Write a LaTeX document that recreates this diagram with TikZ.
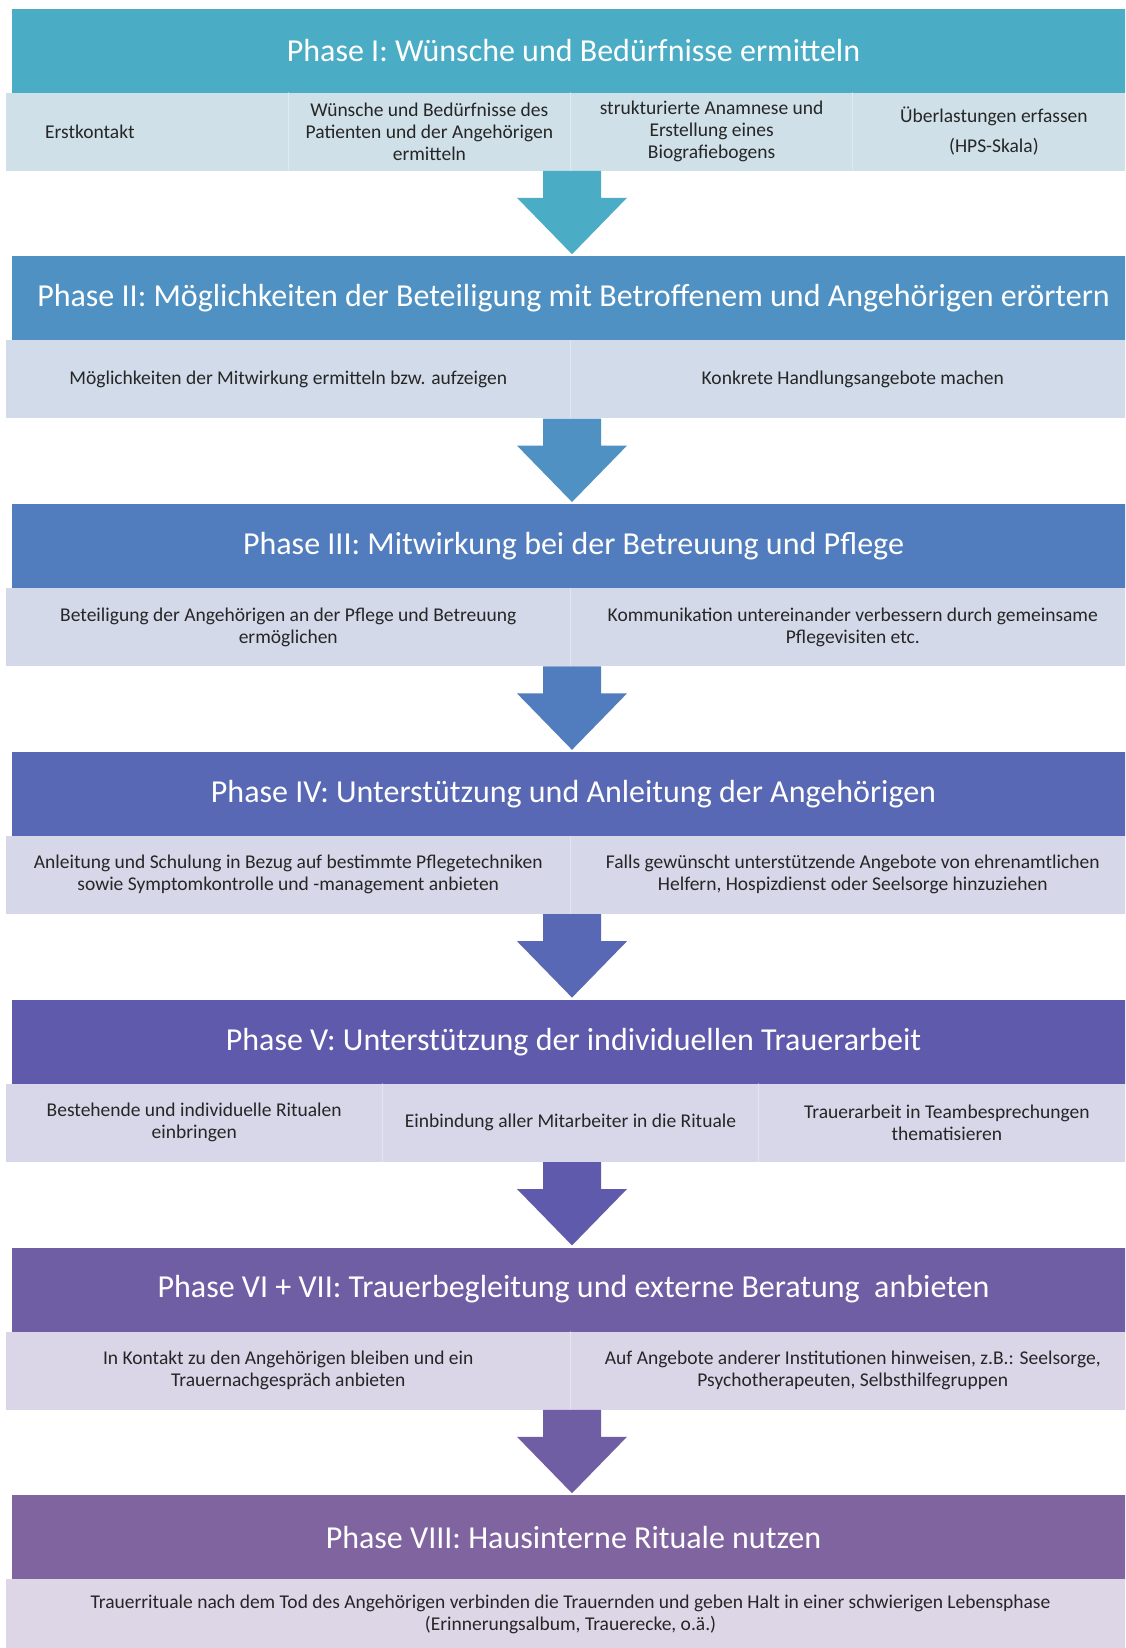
\documentclass[tikz,border=0pt]{standalone}
\usepackage{fontspec}
\setmainfont{Carlito}
\usetikzlibrary{calc}

% phase header colours (teal to purple)
\definecolor{hA}{RGB}{75,172,198}
\definecolor{hB}{RGB}{79,145,195}
\definecolor{hC}{RGB}{81,125,190}
\definecolor{hD}{RGB}{88,104,180}
\definecolor{hE}{RGB}{96,90,172}
\definecolor{hF}{RGB}{112,94,165}
\definecolor{hG}{RGB}{128,100,160}
% light bands holding the single steps
\definecolor{bA}{RGB}{207,224,232}
\definecolor{bB}{RGB}{209,219,233}
\definecolor{bC}{RGB}{212,217,234}
\definecolor{bD}{RGB}{214,215,233}
\definecolor{bE}{RGB}{216,214,233}
\definecolor{bF}{RGB}{219,213,232}
\definecolor{bG}{RGB}{220,214,231}
\definecolor{steptext}{RGB}{38,38,38}

\tikzset{
  header/.style={rectangle, inner sep=0pt, anchor=north west,
    minimum width=1123.4pt, minimum height=84pt, text=white,
    font=\fontsize{32}{38}\selectfont},
  band/.style={rectangle, inner sep=0pt, anchor=north west,
    minimum width=1129pt, minimum height=78pt},
  cell/.style={rectangle, inner sep=0pt, minimum height=78pt, align=center,
    text=steptext, font=\fontsize{19.5}{22}\selectfont},
  cellsep/.style={white, line width=1pt, opacity=0.35},
}

% block arrow from the band of one phase down to the header of the next
\newcommand{\phasearrow}[3]{%
  \fill[#3] ($(#1.south -| axis)+(-29,0)$) -- ++(58,0) -- ++(0,27) -- ++(26,0)
    -- ($(#2.north -| axis)+(0,-2)$)
    -- ($(#1.south -| axis)+(-55,27)$) -- ++(26,0) -- cycle;}

\begin{document}
\begin{tikzpicture}[x=1pt, y=-1pt]
\useasboundingbox (0,0) rectangle (1125,1648);
\clip (0,0) rectangle (1125,1648);
\fill[white] (0,0) rectangle (1125,1648);
\coordinate (axis) at (572,0);

% ---------- Phase I ----------
\node[header, fill=hA] (h1) at (11.6,8.4) {Phase I: Wünsche und Bedürfnisse ermitteln};
\node[band, fill=bA] (b1) at (6,92.4) {};
\node[cell, anchor=west, text width=243.25pt, align=left] (c1a) at (45,131.4) {Erstkontakt};
\node[cell, minimum width=282.25pt] (c1b) at (429.4,131.4)
  {Wünsche und Bedürfnisse des\\Patienten und der Angehörigen\\ermitteln};
\node[cell, minimum width=282.25pt] (c1c) at (711.6,131.4)
  {strukturierte Anamnese und\\Erstellung eines\\Biografiebogens};
\node[cell, minimum width=282.25pt] (c1d) at (993.9,131.4)
  {Überlastungen erfassen\\[8pt](HPS-Skala)};
\foreach \c in {c1a,c1b,c1c} \draw[cellsep] (\c.north east) -- (\c.south east);

% ---------- Phase II ----------
\node[header, fill=hB] (h2) at (11.6,256.2)
  {Phase II: Möglichkeiten der Beteiligung mit Betroffenem und Angehörigen erörtern};
\node[band, fill=bB] (b2) at (6,340.2) {};
\node[cell, minimum width=564.5pt] (c2a) at (288.25,379.2)
  {Möglichkeiten der Mitwirkung ermitteln bzw. aufzeigen};
\node[cell, minimum width=564.5pt] (c2b) at (852.75,379.2)
  {Konkrete Handlungsangebote machen};
\draw[cellsep] (c2a.north east) -- (c2a.south east);

% ---------- Phase III ----------
\node[header, fill=hC] (h3) at (11.6,504.0) {Phase III: Mitwirkung bei der Betreuung und Pflege};
\node[band, fill=bC] (b3) at (6,588.0) {};
\node[cell, minimum width=564.5pt] (c3a) at (288.25,627.0)
  {Beteiligung der Angehörigen an der Pflege und Betreuung\\ermöglichen};
\node[cell, minimum width=564.5pt] (c3b) at (852.75,627.0)
  {Kommunikation untereinander verbessern durch gemeinsame\\Pflegevisiten etc.};
\draw[cellsep] (c3a.north east) -- (c3a.south east);

% ---------- Phase IV ----------
\node[header, fill=hD] (h4) at (11.6,751.8) {Phase IV: Unterstützung und Anleitung der Angehörigen};
\node[band, fill=bD] (b4) at (6,835.8) {};
\node[cell, minimum width=564.5pt] (c4a) at (288.25,874.8)
  {Anleitung und Schulung in Bezug auf bestimmte Pflegetechniken\\sowie Symptomkontrolle und -management anbieten};
\node[cell, minimum width=564.5pt] (c4b) at (852.75,874.8)
  {Falls gewünscht unterstützende Angebote von ehrenamtlichen\\Helfern, Hospizdienst oder Seelsorge hinzuziehen};
\draw[cellsep] (c4a.north east) -- (c4a.south east);

% ---------- Phase V ----------
\node[header, fill=hE] (h5) at (11.6,999.6) {Phase V: Unterstützung der individuellen Trauerarbeit};
\node[band, fill=bE] (b5) at (6,1083.6) {};
\node[cell, minimum width=376.33pt] (c5a) at (194.2,1122.6)
  {Bestehende und individuelle Ritualen\\einbringen};
\node[cell, minimum width=376.33pt] (c5b) at (570.5,1122.6)
  {Einbindung aller Mitarbeiter in die Rituale};
\node[cell, minimum width=376.33pt] (c5c) at (946.8,1122.6)
  {Trauerarbeit in Teambesprechungen\\thematisieren};
\foreach \c in {c5a,c5b} \draw[cellsep] (\c.north east) -- (\c.south east);

% ---------- Phase VI + VII ----------
\node[header, fill=hF] (h6) at (11.6,1247.4)
  {Phase VI + VII: Trauerbegleitung und externe Beratung\ \ anbieten};
\node[band, fill=bF] (b6) at (6,1331.4) {};
\node[cell, minimum width=564.5pt] (c6a) at (288.25,1370.4)
  {In Kontakt zu den Angehörigen bleiben und ein\\Trauernachgespräch anbieten};
\node[cell, minimum width=564.5pt] (c6b) at (852.75,1370.4)
  {Auf Angebote anderer Institutionen hinweisen, z.B.: Seelsorge,\\Psychotherapeuten, Selbsthilfegruppen};
\draw[cellsep] (c6a.north east) -- (c6a.south east);

% ---------- Phase VIII ----------
\node[header, fill=hG] (h7) at (11.6,1495.2) {Phase VIII: Hausinterne Rituale nutzen};
\node[band, fill=bG] (b7) at (6,1579.2) {};
\node[cell, minimum width=1129pt] (c7a) at (570.5,1614.2)
  {Trauerrituale nach dem Tod des Angehörigen verbinden die Trauernden und geben Halt in einer schwierigen Lebensphase\\(Erinnerungsalbum, Trauerecke, o.ä.)};

% ---------- arrows between the phases ----------
\phasearrow{b1}{h2}{hA}
\phasearrow{b2}{h3}{hB}
\phasearrow{b3}{h4}{hC}
\phasearrow{b4}{h5}{hD}
\phasearrow{b5}{h6}{hE}
\phasearrow{b6}{h7}{hF}
\end{tikzpicture}
\end{document}
